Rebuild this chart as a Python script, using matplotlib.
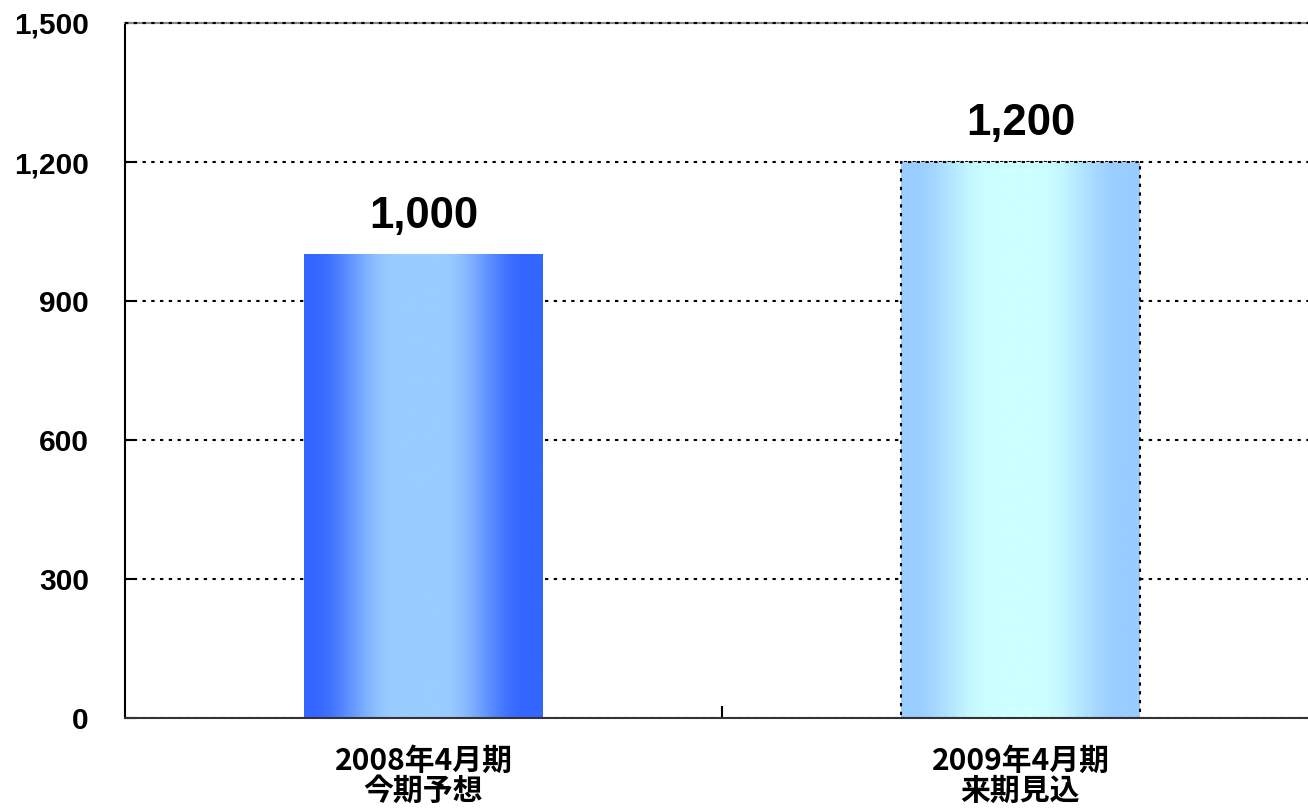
import numpy as np
import matplotlib.pyplot as plt
from matplotlib.colors import to_rgb

plt.rcParams['font.family'] = ['Noto Sans CJK JP', 'DejaVu Sans']

categories = ['2008年4月期\n今期予想', '2009年4月期\n来期見込']
values = [1000, 1200]
value_labels = ['1,000', '1,200']
yticks = [0, 300, 600, 900, 1200, 1500]
ytick_labels = ['0', '300', '600', '900', '1,200', '1,500']

# edge colour and centre colour of each bar's gradient
edge_colors = ['#3366ff', '#99ccff']
centre_colors = ['#99ccff', '#ccffff']

fig = plt.figure(figsize=(13.08, 8.08), dpi=100)
ax = fig.add_axes([125 / 1308, 1 - 718 / 808, 1194 / 1308, 695 / 808])

x = np.arange(len(categories))
bars = ax.bar(x, values, width=0.4, color='none', zorder=3)

# horizontal gradient: edge -> centre -> edge, with a flat light middle
t = np.linspace(0, 1, 400)
d = np.abs(t - 0.48) / 0.48
w = np.clip((d - 0.2) / 0.75, 0, 1)
w = 0.5 - 0.5 * np.cos(np.pi * w)

for i, b in enumerate(bars):
    e = np.array(to_rgb(edge_colors[i]))
    c = np.array(to_rgb(centre_colors[i]))
    img = (c[None, :] * (1 - w[:, None]) + e[None, :] * w[:, None])[None, :, :]
    ax.imshow(img, aspect='auto', zorder=3, interpolation='bilinear',
              extent=[b.get_x(), b.get_x() + b.get_width(), 0, b.get_height()])
    if i == 1:
        b.set_edgecolor('black')
        b.set_linewidth(1.5)
        b.set_linestyle((0, (1.6, 2.6)))
        b.set_zorder(4)
    ax.annotate(value_labels[i], (b.get_x() + b.get_width() / 2, b.get_height()),
                xytext=(0, 13), textcoords='offset points', ha='center', va='bottom',
                fontsize=31.5, fontweight='bold', family='Liberation Sans', zorder=5)

ax.set_xlim(-0.5, 1.5)
ax.set_ylim(0, 1500)
ax.set_yticks(yticks)
ax.set_yticklabels(ytick_labels, fontsize=21.5, fontweight='bold', family='Liberation Sans')
ax.set_xticks(x)
ax.set_xticklabels(categories, fontsize=21.5, fontweight='bold', linespacing=1.0)
ax.set_xticks([0.5], minor=True)
ax.tick_params(axis='x', which='major', length=0, pad=20)
ax.tick_params(axis='x', which='minor', direction='in', length=9, width=1.5, color='black')
ax.tick_params(axis='y', direction='in', length=8, width=1.5, pad=26)

ax.grid(axis='y', color='black', linewidth=1.5, linestyle=(0, (1.6, 2.6)), zorder=2)
ax.set_axisbelow(True)
ax.axhline(yticks[-1], color='black', linewidth=1.5, linestyle=(0, (1.6, 2.6)),
           clip_on=False, zorder=7)

ax.spines['right'].set_visible(False)
ax.spines['top'].set_color('#888888')
ax.spines['top'].set_linewidth(1.5)
ax.spines['left'].set_color('black')
ax.spines['left'].set_linewidth(1.5)
ax.spines['bottom'].set_color('#333333')
ax.spines['bottom'].set_linewidth(1.5)
ax.spines['bottom'].set_zorder(6)

fig.savefig('out.png', dpi=100)
